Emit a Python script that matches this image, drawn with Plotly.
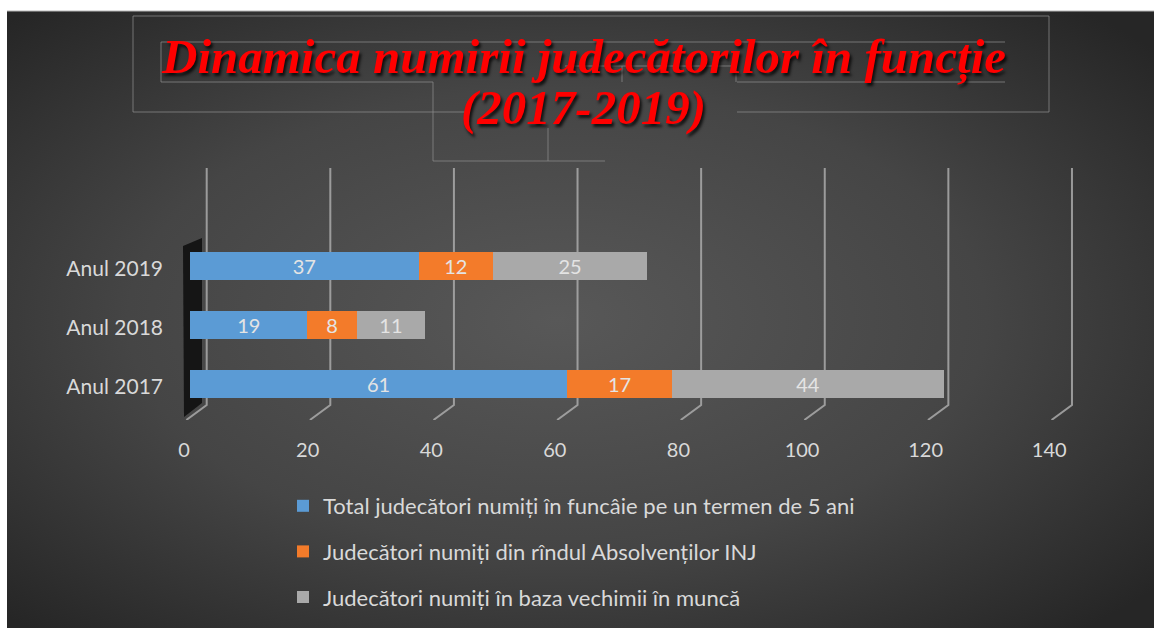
import base64
import plotly.graph_objects as go

# ---------------- data ----------------
categories = ["Anul 2017", "Anul 2018", "Anul 2019"]
series_names = [
    "Total judecători numiți în funcâie pe un termen de 5 ani",
    "Judecători numiți din rîndul Absolvenților INJ",
    "Judecători numiți în baza vechimii în muncă",
]
total_5ani = [61, 19, 37]
absolventi_inj = [17, 8, 12]
vechime = [44, 11, 25]
x_ticks = [0, 20, 40, 60, 80, 100, 120, 140]
title_line1 = "Dinamica numirii judecătorilor în funcție"
title_line2 = "(2017-2019)"

colors = ["#5b9bd5", "#f37b2a", "#a9a9a9"]

# ---------------- layout geometry (page pixels) ----------------
W, H = 1154, 628
L, R, T, B = 180, 1080, 168, 420
PW, PH = R - L, B - T


def px(x):
    return (x - L) / PW


def py(y):
    return (B - y) / PH


fig = go.Figure()
for name, vals, col in zip(series_names, [total_5ani, absolventi_inj, vechime], colors):
    fig.add_trace(go.Bar(
        y=categories, x=vals, name=name, orientation="h",
        marker=dict(color=col, line=dict(width=0)),
        width=0.475,
        text=vals, textposition="inside", insidetextanchor="middle",
        textangle=0, constraintext="none",
        textfont=dict(family="Lato", size=20, color="#e4e4e4"),
        legendgroup=name,
    ))

svg = (
    '<svg xmlns="http://www.w3.org/2000/svg" width="1147" height="617" viewBox="0 0 1147 617" preserveAspectRatio="none">'
    '<defs><radialGradient id="g" cx="0.48" cy="0.5" r="0.68">'
    '<stop offset="0" stop-color="#585858"/>'
    '<stop offset="0.55" stop-color="#454545"/>'
    '<stop offset="1" stop-color="#262626"/>'
    '</radialGradient></defs>'
    '<rect x="0" y="0" width="1147" height="617" fill="url(#g)"/></svg>'
)
src = "data:image/svg+xml;base64," + base64.b64encode(svg.encode()).decode()
fig.add_layout_image(dict(
    source=src, xref="paper", yref="paper",
    x=px(7), y=py(11), sizex=(W - 7) / PW, sizey=(H - 11) / PH,
    xanchor="left", yanchor="top", sizing="stretch", layer="below",
))

shapes = []
# 3D-style gridlines: back-wall vertical + floor diagonal
y_top = 3.66
y_back = -0.356
y_front = -0.61
for v in x_ticks:
    shapes.append(dict(
        type="path", xref="x", yref="y", layer="below",
        path=f"M {v + 2.7},{y_top} L {v + 2.7},{y_back} L {v - 0.6},{y_front}",
        line=dict(color="rgba(170,170,170,0.85)", width=2),
    ))

# dark left wall
shapes.append(dict(
    type="path", xref="paper", yref="paper", layer="below",
    path=f"M {px(183)},{py(246)} L {px(202)},{py(238)} L {px(202)},{py(403)} L {px(184)},{py(417)} Z",
    fillcolor="rgba(15,15,15,0.9)", line=dict(width=0),
))

# decorative frame lines around the title
seg_color = "rgba(140,140,140,0.75)"
segments = [
    (7, 11, W, 11, "#b5b5b5"),
    (133, 16, 1049, 16, seg_color), (133, 16, 133, 112, seg_color),
    (1049, 16, 1049, 112, seg_color), (133, 112, 465, 112, seg_color),
    (737, 112, 1049, 112, seg_color),
    (161, 42, 1005, 42, seg_color), (161, 42, 161, 82, seg_color),
    (161, 82, 433, 82, seg_color), (737, 82, 1005, 82, seg_color),
    (433, 82, 433, 161, seg_color), (433, 161, 605, 161, seg_color),
    (548, 128, 548, 161, seg_color),
    (565, 66, 736, 66, seg_color), (622, 66, 622, 82, seg_color),
    (736, 66, 736, 82, seg_color),
]
for x0, y0, x1, y1, c in segments:
    shapes.append(dict(type="line", xref="paper", yref="paper",
                       x0=px(x0), y0=py(y0), x1=px(x1), y1=py(y1),
                       line=dict(color=c, width=1)))

title_font = dict(family="Liberation Serif", size=49, color="#ff0000",
                  weight="bold", style="italic",
                  shadow="2px 3px 3px rgba(0,0,0,0.75)")
annotations = [
    dict(text=title_line1, xref="paper", yref="paper", x=px(583), y=py(57),
         xanchor="center", yanchor="middle", showarrow=False, font=title_font),
    dict(text=title_line2, xref="paper", yref="paper", x=px(583), y=py(107),
         xanchor="center", yanchor="middle", showarrow=False, font=title_font),
]

fig.update_layout(
    width=W, height=H,
    margin=dict(l=L, r=W - R, t=T, b=H - B, pad=0, autoexpand=False),
    paper_bgcolor="white", plot_bgcolor="rgba(0,0,0,0)",
    barmode="stack", bargap=0.5,
    shapes=shapes, annotations=annotations,
    showlegend=True,
    legend=dict(
        x=px(283), y=py(485), xanchor="left", yanchor="top",
        orientation="v", traceorder="grouped", tracegroupgap=14,
        font=dict(family="Lato", size=22, color="#d9d9d9"),
        bgcolor="rgba(0,0,0,0)",
    ),
    xaxis=dict(
        range=[-1.62, 144.0], tickvals=x_ticks, showgrid=False, zeroline=False,
        showline=False, ticks="", ticklabelshift=-6, ticklabelstandoff=16,
        tickfont=dict(family="Lato", size=20, color="#d9d9d9"),
    ),
    yaxis=dict(
        type="category", categoryorder="array", categoryarray=categories,
        range=[-0.61, 3.66], showgrid=False, zeroline=False, showline=False,
        ticks="", ticklabelstandoff=16, ticklabelshift=3,
        tickfont=dict(family="Lato", size=21, color="#d9d9d9"),
    ),
    font=dict(family="Lato"),
)

fig.write_html("out.html", config={"displayModeBar": False},
               post_script="document.body.style.margin='0';document.body.style.overflow='hidden';")
